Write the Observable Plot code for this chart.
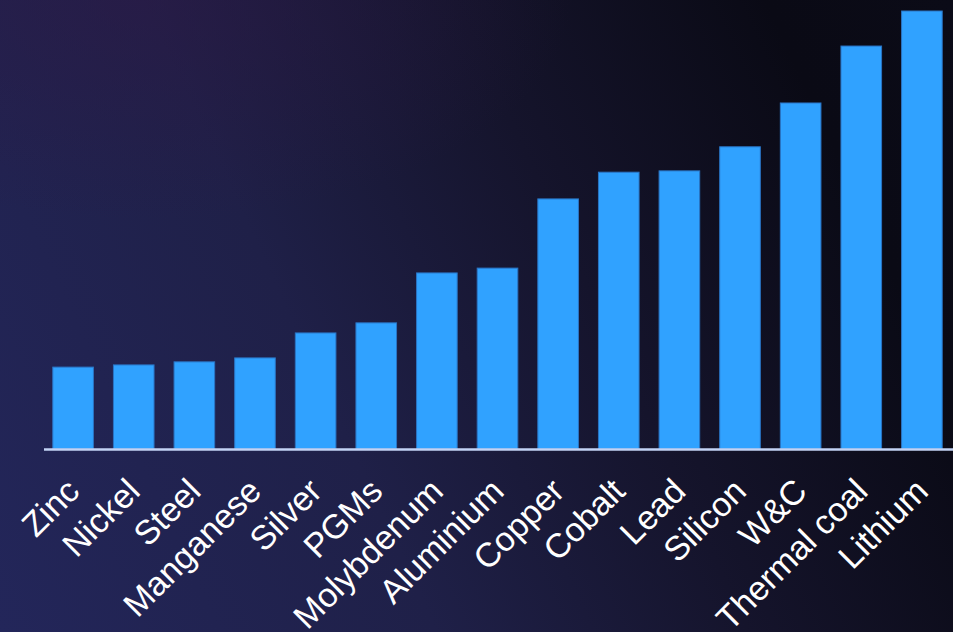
<!DOCTYPE html>
<html>
<head>
<meta charset="utf-8">
<script src="https://cdn.jsdelivr.net/npm/d3@7"></script>
<script src="https://cdn.jsdelivr.net/npm/@observablehq/plot@0.6"></script>
<style>
  html, body { margin: 0; padding: 0; width: 953px; height: 632px; overflow: hidden; }
  body {
    background:
      radial-gradient(ellipse 45% 35% at 15% 0%, rgba(45,25,70,0.55), rgba(45,25,70,0) 100%),
      linear-gradient(65deg, #23265a 0%, #1f2048 35%, #15142c 60%, #0a0a15 85%, #0b0b17 100%);
  }
  #chart svg { display: block; }
</style>
</head>
<body>
<div id="chart"></div>
<script>
const minerals = ["Zinc", "Nickel", "Steel", "Manganese", "Silver", "PGMs", "Molybdenum", "Aluminium", "Copper", "Cobalt", "Lead", "Silicon", "W&C", "Thermal coal", "Lithium"];
const values = [18.7, 19.2, 19.9, 20.8, 26.5, 28.8, 40.2, 41.3, 57.1, 63.2, 63.5, 69.0, 79.0, 92.0, 100.0];

const data = minerals.map((m, i) => ({mineral: m, value: values[i]}));

const chart = Plot.plot({
  width: 953,
  height: 632,
  marginTop: 11,
  marginBottom: 183,
  marginLeft: 44,
  marginRight: 2,
  style: {background: "transparent", color: "#ffffff", fontFamily: "'Liberation Sans', Arial, sans-serif"},
  x: {domain: minerals, paddingInner: 0.33, paddingOuter: 0.145, round: false, label: null},
  y: {domain: [0, 100], axis: null},
  marks: [
    Plot.barY(data, {x: "mineral", y: "value", fill: "#30a2ff", stroke: "#2a74c4", strokeWidth: 1}),
    Plot.ruleY([0], {stroke: "#c3d3f5", strokeWidth: 2.5, insetRight: -2}),
    Plot.axisX({tickSize: 0, tickPadding: 36, tickRotate: -45, fontSize: 34, fill: "#ffffff", label: null})
  ]
});
document.getElementById("chart").appendChild(chart);
</script>
</body>
</html>
